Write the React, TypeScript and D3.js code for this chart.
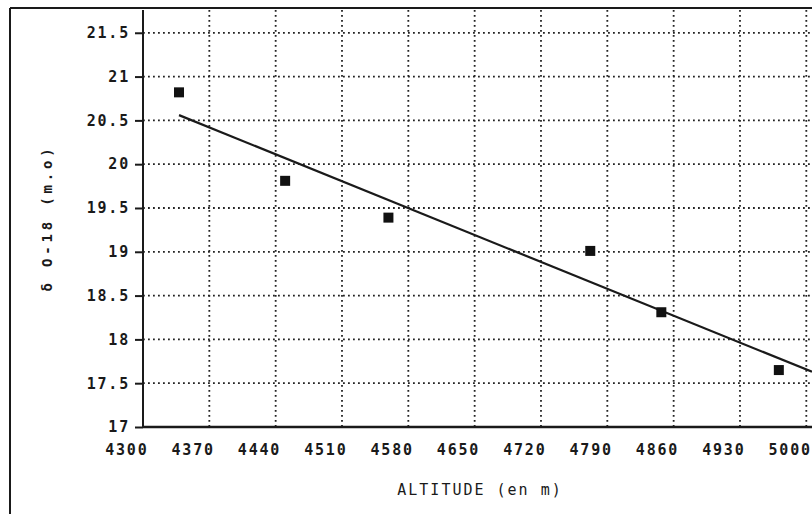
import { useEffect, useRef } from "react";
import * as d3 from "d3";

// measured samples
const altitudes = [4338, 4450, 4559, 4772, 4847, 4971];
const o18 = [20.82, 19.81, 19.39, 19.01, 18.31, 17.65];
// fitted line end points
const fitX = [4338, 5006];
const fitY = [20.56, 17.63];
const xTicks = [4300, 4370, 4440, 4510, 4580, 4650, 4720, 4790, 4860, 4930, 5000];
const yTicks = [17, 17.5, 18, 18.5, 19, 19.5, 20, 20.5, 21, 21.5];

const App = () => {
    const svgRef = useRef<SVGSVGElement>(null);
    useEffect(() => {
        const w = 812;
        const h = 514;
        const svg = d3.select(svgRef.current).attr("width", w).attr("height", h);
        svg.selectAll("*").remove();

        const font = "'DejaVu Sans Mono', monospace";
        const ink = "#1a1a1a";

        const xScale = d3.scaleLinear().domain([4300, 5006]).range([143, 812]);
        const yScale = d3.scaleLinear().domain([17, 21.76]).range([427, 10]);

        // outer frame
        svg.append("line").attr("x1", 10).attr("x2", 10).attr("y1", 8).attr("y2", 514)
            .attr("stroke", ink).attr("stroke-width", 2);
        svg.append("line").attr("x1", 10).attr("x2", 812).attr("y1", 8).attr("y2", 8)
            .attr("stroke", ink).attr("stroke-width", 2);

        // dotted grid
        svg.append("g")
            .selectAll("line")
            .data(xTicks.slice(1))
            .join("line")
            .attr("x1", (d) => xScale(d))
            .attr("x2", (d) => xScale(d))
            .attr("y1", 10)
            .attr("y2", 427)
            .attr("stroke", "#222")
            .attr("stroke-width", 1.8)
            .attr("stroke-dasharray", "1.8 3.2");
        svg.append("g")
            .selectAll("line")
            .data(yTicks.slice(1))
            .join("line")
            .attr("x1", 143)
            .attr("x2", 812)
            .attr("y1", (d) => yScale(d))
            .attr("y2", (d) => yScale(d))
            .attr("stroke", "#222")
            .attr("stroke-width", 1.8)
            .attr("stroke-dasharray", "1.8 3.2");

        // y axis
        const yAxis = d3.axisLeft(yScale)
            .tickValues(yTicks)
            .tickFormat((d) => String(d))
            .tickSize(8)
            .tickPadding(5);
        const gy = svg.append("g").attr("transform", "translate(143,0)").call(yAxis);
        gy.select(".domain").remove();
        gy.selectAll(".tick line").attr("stroke", ink).attr("stroke-width", 2);
        gy.selectAll("text")
            .attr("font-family", font)
            .attr("font-size", 15)
            .attr("font-weight", "bold")
            .attr("letter-spacing", 1.8)
            .attr("fill", ink);
        svg.append("line").attr("x1", 143).attr("x2", 143).attr("y1", 10).attr("y2", 427)
            .attr("stroke", ink).attr("stroke-width", 2);

        // x axis
        const xAxis = d3.axisBottom(xScale)
            .tickValues(xTicks)
            .tickFormat((d) => String(d))
            .tickSize(0)
            .tickPadding(17);
        const gx = svg.append("g").attr("transform", "translate(0,427)").call(xAxis);
        gx.select(".domain").remove();
        gx.selectAll("text")
            .attr("font-family", font)
            .attr("font-size", 15)
            .attr("font-weight", "bold")
            .attr("letter-spacing", 1.8)
            .attr("text-anchor", "end")
            .attr("dx", 5)
            .attr("fill", ink);
        svg.append("line").attr("x1", 143).attr("x2", 812).attr("y1", 427).attr("y2", 427)
            .attr("stroke", ink).attr("stroke-width", 2.5);

        // fitted line
        const line = d3.line<number>()
            .x((d) => xScale(d))
            .y((d, i) => yScale(fitY[i]));
        svg.append("path")
            .attr("d", line(fitX))
            .attr("fill", "none")
            .attr("stroke", ink)
            .attr("stroke-width", 2.2);

        // samples
        svg.append("g")
            .selectAll("rect")
            .data(altitudes)
            .join("rect")
            .attr("x", (d) => xScale(d) - 5)
            .attr("y", (d, i) => yScale(o18[i]) - 5)
            .attr("width", 10)
            .attr("height", 10)
            .attr("fill", "#111");

        // titles
        svg.append("text")
            .attr("x", 480)
            .attr("y", 495)
            .attr("text-anchor", "middle")
            .attr("font-family", font)
            .attr("font-size", 15)
            .attr("letter-spacing", 2)
            .attr("fill", ink)
            .text("ALTITUDE (en m)");
        svg.append("text")
            .attr("transform", "translate(52,218) rotate(-90)")
            .attr("text-anchor", "middle")
            .attr("font-family", font)
            .attr("font-size", 14)
            .attr("font-weight", "bold")
            .attr("letter-spacing", 3.8)
            .attr("fill", ink)
            .text("δ O-18 (m.o)");
    }, []);

    return (
        <div style={{ position: "absolute", left: 0, top: 0 }}>
            <svg ref={svgRef} style={{ display: "block" }}></svg>
        </div>
    );
};

export default App;
